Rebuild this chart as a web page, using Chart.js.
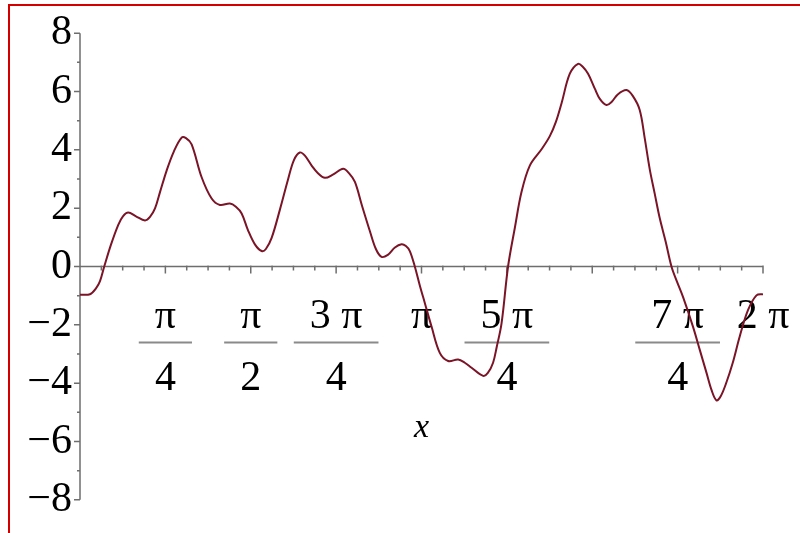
<!DOCTYPE html>
<html>
<head>
<meta charset="utf-8">
<script src="https://cdn.jsdelivr.net/npm/chart.js@4/dist/chart.umd.min.js"></script>
<style>
    html, body { margin: 0; padding: 0; background: #fff; }
    #wrap { position: relative; width: 800px; height: 533px; overflow: hidden; }
    #frame {
        position: absolute; left: 8px; top: 4px; width: 900px; height: 600px;
        border-top: 2px solid #d40000; border-left: 2px solid #d40000;
        pointer-events: none;
    }
</style>
</head>
<body>
<div id="wrap">
    <canvas id="plot" width="800" height="533"></canvas>
    <div id="frame"></div>
</div>
<script>
// ============================================================
// Curva f(x) en [0, 2π] leída del gráfico de Maple
// ============================================================

const PI = Math.PI;

// x en radianes, y valores de la curva
const curveX = [
    0, 0.092, 0.147, 0.184, 0.223, 0.285, 0.352, 0.395, 0.444, 0.515,
    0.598, 0.644, 0.690, 0.736, 0.797, 0.864, 0.935, 0.975, 1.027, 1.119,
    1.211, 1.287, 1.379, 1.434, 1.487, 1.545, 1.609, 1.671, 1.710, 1.763,
    1.839, 1.915, 1.968, 2.023, 2.069, 2.131, 2.189, 2.253, 2.326, 2.421,
    2.474, 2.529, 2.593, 2.667, 2.722, 2.774, 2.832, 2.897, 2.958, 2.998,
    3.034, 3.080, 3.126, 3.172, 3.234, 3.310, 3.387, 3.479, 3.540, 3.602,
    3.709, 3.752, 3.800, 3.834, 3.878, 3.938, 4.000, 4.062, 4.138, 4.246,
    4.322, 4.377, 4.430, 4.506, 4.582, 4.625, 4.674, 4.736, 4.782, 4.843,
    4.892, 4.947, 5.027, 5.085, 5.149, 5.195, 5.241, 5.287, 5.333, 5.388,
    5.441, 5.490, 5.548, 5.639, 5.701, 5.763, 5.811, 5.855, 5.894, 5.947,
    6.005, 6.069, 6.145, 6.223, 6.2832
];
const curveY = [
    -0.97, -0.95, -0.75, -0.50, 0, 0.75, 1.43, 1.72, 1.85, 1.72,
    1.58, 1.70, 1.99, 2.55, 3.29, 3.95, 4.42, 4.40, 4.19, 3.06,
    2.33, 2.11, 2.16, 2.05, 1.82, 1.25, 0.76, 0.53, 0.60, 0.98,
    1.95, 3.00, 3.65, 3.91, 3.80, 3.46, 3.20, 3.04, 3.15, 3.35,
    3.20, 2.90, 2.10, 1.21, 0.60, 0.33, 0.40, 0.65, 0.76, 0.70,
    0.53, 0, -0.65, -1.25, -2.06, -2.96, -3.24, -3.19, -3.30, -3.47,
    -3.75, -3.65, -3.30, -2.75, -1.95, 0, 1.32, 2.56, 3.46, 4.02,
    4.47, 4.95, 5.60, 6.61, 6.95, 6.85, 6.61, 6.10, 5.75, 5.54,
    5.65, 5.90, 6.05, 5.85, 5.37, 4.40, 3.34, 2.50, 1.66, 0.85,
    0, -0.50, -1.05, -2.06, -2.85, -3.64, -4.25, -4.59, -4.45, -3.97,
    -3.30, -2.40, -1.50, -0.99, -0.95
];

// Etiquetas del eje x (Maple no rotula 3π/2)
const xTickValues       = [PI / 4, PI / 2, 3 * PI / 4, PI, 5 * PI / 4, 7 * PI / 4, 2 * PI];
const xTickNumerators   = ['π', 'π', '3 π', 'π', '5 π', '7 π', '2 π'];
const xTickDenominators = ['4', '2', '4', '', '4', '4', ''];

// Eje y
const yMin = -8;
const yMax = 8;

const SERIF = '"Liberation Serif", "DejaVu Serif", serif';
const AXIS_COLOR = '#6e6e6e';

const mapleAxes = {
    id: 'mapleAxes',
    beforeDatasetsDraw(chart) {
        const { ctx, scales: { x, y } } = chart;
        const x0 = x.getPixelForValue(0);
        const x1 = x.getPixelForValue(2 * PI);
        const yz = y.getPixelForValue(0);

        ctx.save();
        ctx.strokeStyle = AXIS_COLOR;
        ctx.lineWidth = 1.5;

        // eje y + marcas
        ctx.beginPath();
        ctx.moveTo(x0, y.getPixelForValue(yMax));
        ctx.lineTo(x0, y.getPixelForValue(yMin));
        for (let v = yMin; v <= yMax; v++) {
            const py = y.getPixelForValue(v);
            const len = v % 2 === 0 ? 6 : 3;
            ctx.moveTo(x0 - len, py);
            ctx.lineTo(x0, py);
        }
        ctx.stroke();

        // eje x + marcas cada π/16
        ctx.beginPath();
        ctx.moveTo(x0, yz);
        ctx.lineTo(x1, yz);
        for (let i = 1; i <= 32; i++) {
            const px = x.getPixelForValue(i * PI / 16);
            const len = i % 4 === 0 ? 7 : 4;
            ctx.moveTo(px, yz - 1);
            ctx.lineTo(px, yz + len);
        }
        ctx.stroke();

        // fracciones
        ctx.fillStyle = '#000';
        ctx.textAlign = 'center';
        ctx.textBaseline = 'middle';
        ctx.font = '42px ' + SERIF;
        xTickValues.forEach((v, i) => {
            const px = x.getPixelForValue(v);
            const num = xTickNumerators[i];
            const den = xTickDenominators[i];
            ctx.fillText(num, px, yz + 50);
            if (den) {
                const w = Math.max(ctx.measureText(num).width, ctx.measureText(den).width) + 32;
                ctx.fillText(den, px, yz + 112);
                ctx.save();
                ctx.strokeStyle = '#8a8a8a';
                ctx.lineWidth = 2;
                ctx.beginPath();
                ctx.moveTo(px - w / 2, yz + 76);
                ctx.lineTo(px + w / 2, yz + 76);
                ctx.stroke();
                ctx.restore();
            }
        });

        // título del eje
        ctx.font = 'italic 34px ' + SERIF;
        ctx.fillText('x', x.getPixelForValue(PI), yz + 162);
        ctx.restore();
    }
};

new Chart(document.getElementById('plot').getContext('2d'), {
    type: 'line',
    data: {
        datasets: [{
            data: curveX.map((v, i) => ({ x: v, y: curveY[i] })),
            borderColor: '#7a1426',
            borderWidth: 2,
            pointRadius: 0,
            tension: 0.35,
            fill: false
        }]
    },
    options: {
        responsive: false,
        animation: false,
        devicePixelRatio: 1,
        layout: { padding: { left: 0, right: 37, top: 29, bottom: 30.5 } },
        plugins: { legend: { display: false }, tooltip: { enabled: false } },
        scales: {
            x: { type: 'linear', min: 0, max: 2 * PI, display: false },
            y: {
                min: yMin, max: yMax,
                afterFit: s => { s.width = 80; },
                grid: { display: false, drawTicks: false },
                border: { display: false },
                ticks: {
                    stepSize: 2,
                    padding: 8,
                    color: '#000',
                    font: { family: SERIF, size: 42 },
                    callback: v => v < 0 ? '\u2212' + Math.abs(v) : String(v)
                }
            }
        }
    },
    plugins: [mapleAxes]
});
</script>
</body>
</html>
